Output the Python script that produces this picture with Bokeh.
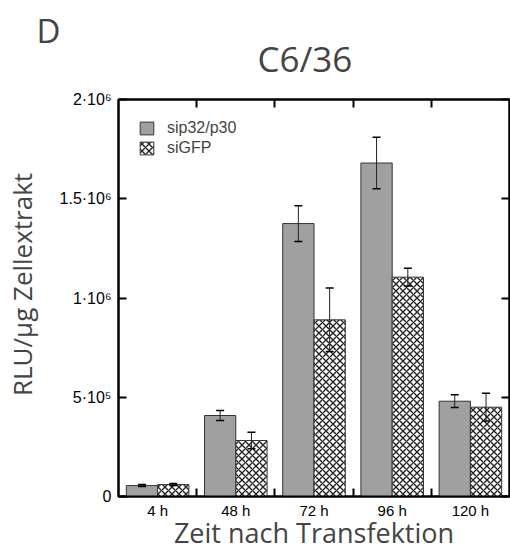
from bokeh.plotting import figure
from bokeh.models import (ColumnDataSource, Range1d, FixedTicker, LinearAxis, Whisker,
                          Legend, LegendItem, Title)
from bokeh.embed import file_html
from bokeh.resources import INLINE

categories = ["4 h", "48 h", "72 h", "96 h", "120 h"]
sip_values = [55000, 408000, 1375000, 1680000, 480000]
sip_errors = [5000, 25000, 90000, 130000, 32000]
gfp_values = [60000, 282000, 890000, 1105000, 450000]
gfp_errors = [5000, 42000, 160000, 45000, 70000]
y_ticks = [0, 500000, 1000000, 1500000, 2000000]
y_tick_labels = ["0", "5·10⁵", "1·10⁶", "1.5·10⁶", "2·10⁶"]

centers = [i + 0.5 for i in range(len(categories))]
bw = 0.4
sip_x = [c - bw / 2 for c in centers]
gfp_x = [c + bw / 2 for c in centers]

src_sip = ColumnDataSource(dict(x=sip_x, top=sip_values,
                                lo=[v - e for v, e in zip(sip_values, sip_errors)],
                                hi=[v + e for v, e in zip(sip_values, sip_errors)]))
src_gfp = ColumnDataSource(dict(x=gfp_x, top=gfp_values,
                                lo=[v - e for v, e in zip(gfp_values, gfp_errors)],
                                hi=[v + e for v, e in zip(gfp_values, gfp_errors)]))

p = figure(width=510, height=554, output_backend="svg", toolbar_location=None,
           x_range=Range1d(0, len(categories)), y_range=Range1d(0, 2000000),
           min_border_left=114, min_border_right=1, min_border_top=99, min_border_bottom=58,
           x_axis_location=None, y_axis_location=None)
p.grid.visible = False
p.outline_line_color = "black"
p.outline_line_width = 2
p.background_fill_color = "white"
p.border_fill_color = "white"

r1 = p.vbar(x="x", top="top", width=bw, bottom=0, source=src_sip,
            fill_color="#a0a0a0", line_color="#333333", line_width=1)
r2 = p.vbar(x="x", top="top", width=bw, bottom=0, source=src_gfp,
            fill_color="white", line_color="#333333", line_width=1,
            hatch_pattern="x", hatch_color="#222222", hatch_scale=7, hatch_weight=1.4)

for src in (src_sip, src_gfp):
    w = Whisker(base="x", lower="lo", upper="hi", source=src, line_color="#222222",
                line_width=1, level="overlay")
    w.upper_head.size = 8
    w.lower_head.size = 8
    w.upper_head.line_width = 1.5
    w.lower_head.line_width = 1.5
    p.add_layout(w)

font_axis = "Liberation Sans"

# left axis
yl = LinearAxis(ticker=FixedTicker(ticks=y_ticks, minor_ticks=[]))
yl.major_label_overrides = {t: l for t, l in zip(y_ticks, y_tick_labels)}
yl.major_tick_in = 8
yl.major_tick_out = 0
yl.axis_line_width = 2
yl.major_tick_line_width = 2
yl.major_label_text_font = font_axis
yl.major_label_text_font_size = "16px"
yl.major_label_text_color = "black"
yl.major_label_standoff = 7
yl.axis_label = "\u00a0\u00a0\u00a0\u00a0RLU/µg Zellextrakt"
yl.axis_label_text_font = "Open Sans"
yl.axis_label_text_font_size = "26px"
yl.axis_label_text_font_style = "normal"
yl.axis_label_standoff = 17
p.add_layout(yl, "left")

# right axis
yr = LinearAxis(ticker=FixedTicker(ticks=y_ticks, minor_ticks=[]))
yr.major_label_overrides = {t: "" for t in y_ticks}
yr.major_tick_in = 8
yr.major_tick_out = 0
yr.axis_line_width = 2
yr.major_tick_line_width = 2
p.add_layout(yr, "right")

# bottom axis
boundaries = [float(i) for i in range(1, len(categories))]
xb = LinearAxis(ticker=FixedTicker(ticks=centers, minor_ticks=boundaries))
xb.major_label_overrides = {c: l for c, l in zip(centers, categories)}
xb.major_tick_in = 0
xb.major_tick_out = 0
xb.minor_tick_in = 8
xb.minor_tick_out = 0
xb.minor_tick_line_width = 2
xb.axis_line_width = 2
xb.major_label_text_font = font_axis
xb.major_label_text_font_size = "15px"
xb.major_label_text_color = "black"
xb.major_label_standoff = 5
xb.axis_label = "Zeit nach Transfektion"
xb.axis_label_text_font = "Open Sans"
xb.axis_label_text_font_size = "27px"
xb.axis_label_text_font_style = "normal"
xb.axis_label_text_line_height = 1.0
xb.axis_label_standoff = -8
p.add_layout(xb, "below")

# top axis
xt = LinearAxis(ticker=FixedTicker(ticks=boundaries, minor_ticks=[]))
xt.major_label_overrides = {b: "" for b in boundaries}
xt.major_tick_in = 8
xt.major_tick_out = 0
xt.major_tick_line_width = 2
xt.axis_line_width = 2
p.add_layout(xt, "above")

legend = Legend(items=[LegendItem(label="sip32/p30", renderers=[r1]),
                       LegendItem(label="siGFP", renderers=[r2])],
                location="top_left", margin=20, padding=4, spacing=2,
                glyph_width=17, glyph_height=16, label_height=16, label_standoff=12,
                label_text_font=font_axis, label_text_font_size="16px",
                border_line_color=None, background_fill_alpha=0)
p.add_layout(legend)

p.add_layout(Title(text="C6/36\u00a0\u00a0", align="center", text_font="Open Sans",
                   text_font_size="35px", text_font_style="normal", standoff=36), "above")
p.add_layout(Title(text="D", align="left", offset=-82, text_font="Open Sans",
                   text_font_size="33px", text_font_style="normal", standoff=-77), "above")

open("out.html", "w").write(file_html(p, INLINE))
